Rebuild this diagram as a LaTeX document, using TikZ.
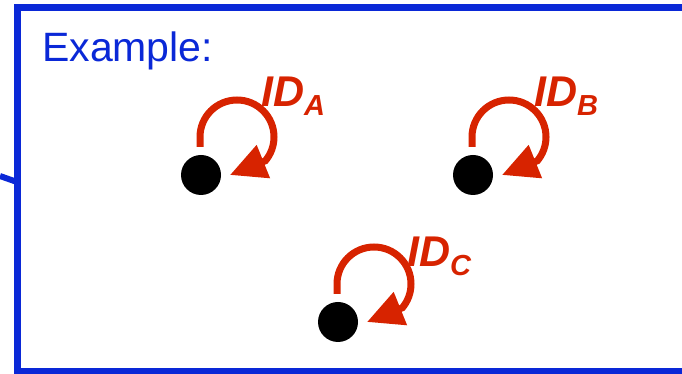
\documentclass[tikz,border=0pt]{standalone}
\usepackage{fontspec}
\setmainfont{Liberation Sans}
\usetikzlibrary{arrows.meta,positioning}
\definecolor{frameblue}{RGB}{10,40,215}
\definecolor{loopred}{RGB}{215,35,0}
\newcommand\idsub[1]{\raisebox{-9pt}{\fontsize{29}{29}\selectfont #1}}

\begin{document}
\begin{tikzpicture}[x=1pt, y=1pt,
    dot/.style={circle, fill=black, minimum size=40pt, inner sep=0pt},
    loop arrow/.style={draw=loopred, line width=7pt, -{Triangle[length=36pt,width=34pt]}},
    idlabel/.style={text=loopred, anchor=base west, inner sep=0pt,
        font=\fontsize{43}{43}\selectfont\bfseries\itshape}
]
\useasboundingbox (0,0) rectangle (682,374);

% frame
\draw[frameblue, line width=7pt] (690,366.5) -- (17,366.5) -- (17,2) -- (690,2);
\coordinate (stub) at (0,198);
\coordinate (stubend) at (17,192);
\draw[frameblue, line width=6pt] (stub) -- (stubend);

\node[anchor=base west, inner sep=0pt, text=frameblue,
      font=\fontsize{41}{41}\selectfont] (title) at (42,312) {Example:};

% nodes
\node[dot] (a) at (201,199) {};
\node[dot] (b) at (473,199) {};
\node[dot] (c) at (338,52) {};

% self loops
\foreach \n in {a,b,c}
    \draw[loop arrow] ([shift={(-1,28)}]\n.center) -- ++(0,10)
        arc (180:-40:37) -- ([shift={(29,0)}]\n.center);

\node[idlabel] (ida) at (261,267) {ID\idsub{A}};
\node[idlabel] (idb) at (534,267) {ID\idsub{B}};
\node[idlabel] (idc) at (407,107) {ID\idsub{C}};
\end{tikzpicture}
\end{document}
